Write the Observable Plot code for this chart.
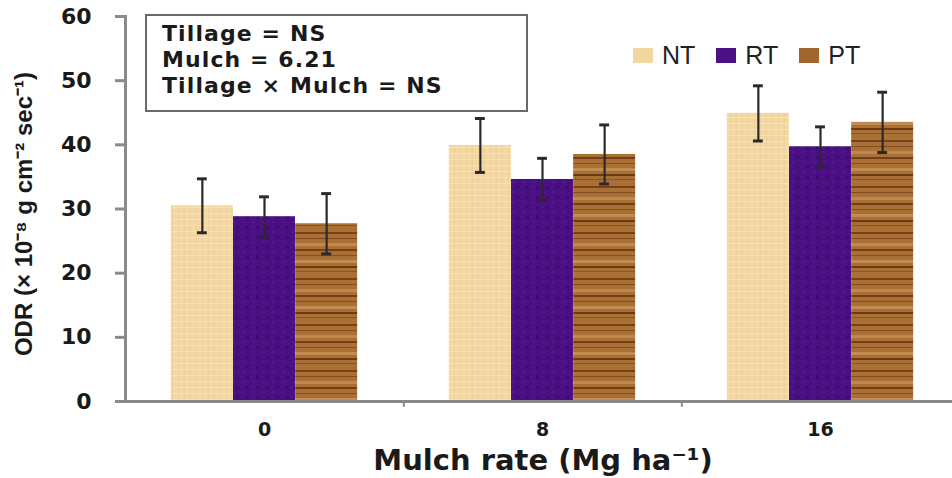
<!DOCTYPE html>
<html>
<head>
<meta charset="utf-8">
<script src="https://cdn.jsdelivr.net/npm/d3@7"></script>
<script src="https://cdn.jsdelivr.net/npm/@observablehq/plot@0.6"></script>
<style>
  html, body { margin: 0; padding: 0; background: #fff; }
  #wrap { position: relative; width: 952px; height: 478px; overflow: hidden; }
  #stats { position: absolute; left: 145px; top: 14px; width: 364px; height: 89px;
    border: 2px solid #6a6a6a; font-family: "DejaVu Sans", sans-serif; font-weight: bold;
    font-size: 22px; line-height: 26px; color: #1a1a1a; padding: 5px 0 0 15px; box-sizing: content-box;
    letter-spacing: 1.1px; }
  #stats div { white-space: nowrap; }
  #legend { position: absolute; left: 633px; top: 41px; display: flex; align-items: center;
    font-family: "Liberation Sans", Arial, sans-serif; font-size: 25px; color: #222; }
  #legend .item { display: flex; align-items: center; margin-right: 21px; }
  #legend .sw { width: 20px; height: 15px; margin-right: 9px; }
</style>
</head>
<body>
<div id="wrap">
  <div id="chart"></div>
  <div id="stats"></div>
  <div id="legend"></div>
</div>
<script>
// ---- data ----
const mulchRates = ["0", "8", "16"];
const tillages = ["NT", "RT", "PT"];
const ntValues = [30.5, 39.9, 44.9];
const ntErrors = [4.2, 4.2, 4.3];
const rtValues = [28.8, 34.6, 39.7];
const rtErrors = [3.1, 3.3, 3.1];
const ptValues = [27.7, 38.5, 43.5];
const ptErrors = [4.7, 4.6, 4.7];
const yTicks = [0, 10, 20, 30, 40, 50, 60];
const statLines = ["Tillage = NS", "Mulch = 6.21", "Tillage \u00d7 Mulch = NS"];
const yTitle = "ODR (\u00d7 10\u207b\u2078 g cm\u207b\u00b2 sec\u207b\u00b9)";
const xTitle = "Mulch rate (Mg ha\u207b\u00b9)";

const seriesValues = {NT: ntValues, RT: rtValues, PT: ptValues};
const seriesErrors = {NT: ntErrors, RT: rtErrors, PT: ptErrors};
const rows = [];
tillages.forEach(t => mulchRates.forEach((m, i) => {
  rows.push({tillage: t, mulch: m, value: seriesValues[t][i], err: seriesErrors[t][i]});
}));

// ---- styles ----
const swatch = {NT: "#F1D6A2", RT: "#4A1282", PT: "#A1652F"};
const xRange = [124, 960];
const step = (xRange[1] - xRange[0]) / mulchRates.length;
const padInner = 0.777;
const barW = step * (1 - padInner);
const offsets = {NT: -barW, RT: 0, PT: barW};
const font = "DejaVu Sans, sans-serif";
const axisGray = "#8a8a8a";

const marks = [
  Plot.frame({anchor: "left", stroke: axisGray, strokeWidth: 3}),
  Plot.axisY({ticks: yTicks, tickSize: 10, tickPadding: 24, stroke: axisGray, strokeWidth: 3,
    fontSize: 22, fontWeight: "bold", fontFamily: font, fill: "#1a1a1a", label: null}),
  Plot.axisX({tickSize: 0, tickPadding: 21, fontSize: 19, fontWeight: "bold", fontFamily: font,
    fill: "#1a1a1a", label: null}),
];
tillages.forEach(t => {
  const d = rows.filter(r => r.tillage === t);
  marks.push(Plot.barY(d, {x: "mulch", y: "value", dx: offsets[t], fill: `url(#pat-${t})`}));
});
tillages.forEach(t => {
  const d = rows.filter(r => r.tillage === t);
  marks.push(Plot.ruleX(d, {x: "mulch", y1: r => r.value - r.err, y2: r => r.value + r.err,
    dx: offsets[t], stroke: "#2a2a2a", strokeWidth: 2.2}));
  marks.push(Plot.tickY(d, {x: "mulch", y: r => r.value + r.err, dx: offsets[t],
    insetLeft: barW / 2 - 5, insetRight: barW / 2 - 5, stroke: "#2a2a2a", strokeWidth: 3}));
  marks.push(Plot.tickY(d, {x: "mulch", y: r => r.value - r.err, dx: offsets[t],
    insetLeft: barW / 2 - 5, insetRight: barW / 2 - 5, stroke: "#2a2a2a", strokeWidth: 3}));
});
marks.push(Plot.ruleY([0], {stroke: axisGray, strokeWidth: 3}));
marks.push(Plot.ruleX(mulchRates.slice(0, -1), {x: d => d, dx: step / 2, y1: 0, y2: -0.9,
  stroke: axisGray, strokeWidth: 2}));
marks.push(Plot.text([xTitle], {frameAnchor: "bottom", dx: 4, dy: 68, fontSize: 29,
  fontWeight: "bold", fontFamily: font, fill: "#1a1a1a"}));
marks.push(Plot.text([yTitle], {frameAnchor: "left", textAnchor: "middle", dx: -101, dy: 5, rotate: -90,
  fontSize: 24, fontWeight: "bold", fontFamily: "Liberation Sans, Arial, sans-serif", fill: "#1a1a1a"}));

const chart = Plot.plot({
  width: 952,
  height: 478,
  marginLeft: 125,
  marginRight: 0,
  marginTop: 16,
  marginBottom: 77,
  style: {background: "#fff", overflow: "visible"},
  x: {domain: mulchRates, range: xRange, paddingInner: padInner, paddingOuter: padInner / 2, align: 0.5},
  y: {domain: [0, 60], axis: null},
  marks
});

// textured pattern fills
const ns = "http://www.w3.org/2000/svg";
const defs = document.createElementNS(ns, "defs");
function mk(tag, attrs, parent) {
  const el = document.createElementNS(ns, tag);
  for (const k in attrs) el.setAttribute(k, attrs[k]);
  parent.appendChild(el);
  return el;
}
// NT: light straw with fine grid
let p = mk("pattern", {id: "pat-NT", patternUnits: "userSpaceOnUse", width: 6, height: 6}, defs);
mk("rect", {width: 6, height: 6, fill: "#F3D8A5"}, p);
mk("rect", {x: 0, y: 0, width: 1, height: 6, fill: "#E8C68D", opacity: 0.6}, p);
mk("rect", {x: 0, y: 3, width: 6, height: 1, fill: "#F8E4BE", opacity: 0.8}, p);
// RT: purple with mottling
p = mk("pattern", {id: "pat-RT", patternUnits: "userSpaceOnUse", width: 10, height: 10}, defs);
mk("rect", {width: 10, height: 10, fill: "#4A0F82"}, p);
mk("rect", {x: 2, y: 1, width: 3, height: 2, fill: "#5A1C98", opacity: 0.7}, p);
mk("rect", {x: 6, y: 6, width: 3, height: 3, fill: "#3C0A6C", opacity: 0.7}, p);
mk("rect", {x: 1, y: 6, width: 2, height: 2, fill: "#56189A", opacity: 0.6}, p);
// PT: wood grain horizontal stripes
p = mk("pattern", {id: "pat-PT", patternUnits: "userSpaceOnUse", width: 62, height: 46}, defs);
mk("rect", {width: 62, height: 46, fill: "#AA6F35"}, p);
[[2, 2, "#6E3A12"], [8, 1, "#7B4518"], [13, 3, "#C48C52"], [19, 2, "#6A3610"], [25, 1, "#81491B"],
 [30, 3, "#C68F56"], [36, 2, "#5E300D"], [41, 1, "#8A5020"]].forEach(([y, h, c]) =>
  mk("rect", {x: 0, y, width: 62, height: h, fill: c, opacity: 0.85}, p));
chart.insertBefore(defs, chart.firstChild);

document.getElementById("chart").appendChild(chart);

// stats box
const stats = document.getElementById("stats");
statLines.forEach(s => { const d = document.createElement("div"); d.textContent = s; stats.appendChild(d); });

// legend
const legend = document.getElementById("legend");
tillages.forEach(t => {
  const it = document.createElement("div"); it.className = "item";
  const sw = document.createElement("div"); sw.className = "sw"; sw.style.background = swatch[t];
  const tx = document.createElement("span"); tx.textContent = t;
  it.appendChild(sw); it.appendChild(tx); legend.appendChild(it);
});
</script>
</body>
</html>
